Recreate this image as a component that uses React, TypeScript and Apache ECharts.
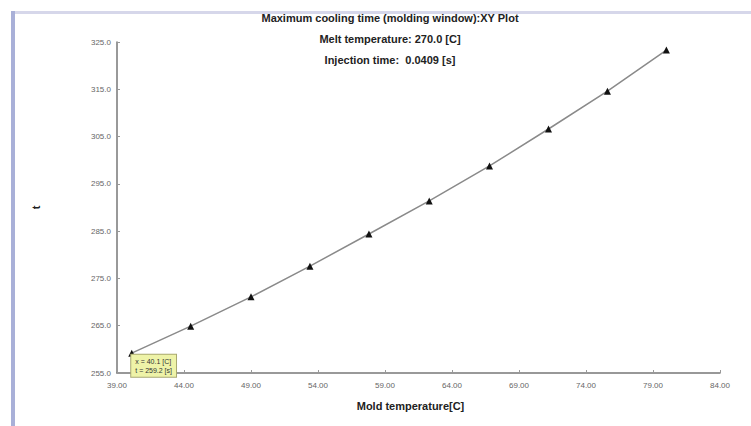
import React, { useEffect, useRef } from "react";
import * as echarts from "echarts";

const moldTemp = [40.1, 44.5, 49.0, 53.4, 57.8, 62.3, 66.8, 71.2, 75.6, 80.0];
const coolTime = [259.2, 264.9, 271.1, 277.6, 284.4, 291.4, 298.8, 306.6, 314.6, 323.3];
const titleLines = [
  "Maximum cooling time (molding window):XY Plot",
  "Melt temperature: 270.0 [C]",
  "Injection time:  0.0409 [s]",
];
const xName = "Mold temperature[C]";
const yName = "t";

export default function App() {
  const ref = useRef<HTMLDivElement>(null);
  useEffect(() => {
    if (!ref.current) return;
    const chart = echarts.init(ref.current, null, { renderer: "svg" });
    const data = moldTemp.map((x, i) => {
      const item: any = { value: [x, coolTime[i]] };
      if (i === 0) {
        item.label = {
          show: true,
          position: [3, 5],
          formatter: () => `x = ${x.toFixed(1)} [C]\nt = ${coolTime[i].toFixed(1)} [s]`,
          backgroundColor: "#eef3a8",
          borderColor: "#a8a870",
          borderWidth: 1,
          padding: [2, 4],
          fontSize: 7,
          lineHeight: 9,
          color: "#333",
          fontFamily: "Liberation Sans",
        };
      }
      return item;
    });
    chart.setOption({
      animation: false,
      backgroundColor: "#fff",
      textStyle: { fontFamily: "Liberation Sans" },
      graphic: [
        { type: "rect", shape: { x: 12, y: 11, width: 739, height: 3 }, style: { fill: "#d6d7ea" } },
        { type: "rect", shape: { x: 11, y: 11, width: 4, height: 415 }, style: { fill: "#a9b0d8" } },
        ...titleLines.map((t, i) => ({
          type: "text",
          x: 390,
          y: 18 + i * 21,
          style: {
            text: t,
            fill: "#222",
            font: "bold 11px 'Liberation Sans'",
            textAlign: "center",
            textVerticalAlign: "middle",
          },
        })),
      ],
      grid: { left: 117, right: 31, top: 42, bottom: 53 },
      xAxis: {
        type: "value",
        min: 39,
        max: 84,
        interval: 5,
        name: xName,
        nameLocation: "middle",
        nameGap: 27,
        nameTextStyle: { fontWeight: "bold", fontSize: 11, color: "#222", padding: [0, 16, 0, 0] },
        axisLine: { lineStyle: { color: "#777", width: 1.5 } },
        axisTick: { inside: true, length: 3, lineStyle: { color: "#999" } },
        axisLabel: { formatter: (v: number) => v.toFixed(2), fontSize: 8, color: "#666", margin: 8 },
        splitLine: { show: false },
      },
      yAxis: {
        type: "value",
        min: 255,
        max: 325,
        interval: 10,
        name: yName,
        nameLocation: "middle",
        nameGap: 76,
        nameTextStyle: { fontWeight: "bold", fontSize: 11, color: "#222" },
        axisLine: { show: true, lineStyle: { color: "#777", width: 1.5 } },
        axisTick: { show: true, inside: true, length: 3, lineStyle: { color: "#999" } },
        axisLabel: { formatter: (v: number) => v.toFixed(1), fontSize: 8, color: "#666", margin: 6 },
        splitLine: { show: false },
      },
      series: [
        {
          type: "line",
          data,
          symbol: "triangle",
          symbolSize: 7,
          itemStyle: { color: "#111" },
          lineStyle: { color: "#8a8a8a", width: 1.5 },
        },
      ],
    });
    return () => chart.dispose();
  }, []);
  return (
    <div
      ref={ref}
      style={{ position: "fixed", left: 0, top: 0, width: 751, height: 426 }}
    />
  );
}
